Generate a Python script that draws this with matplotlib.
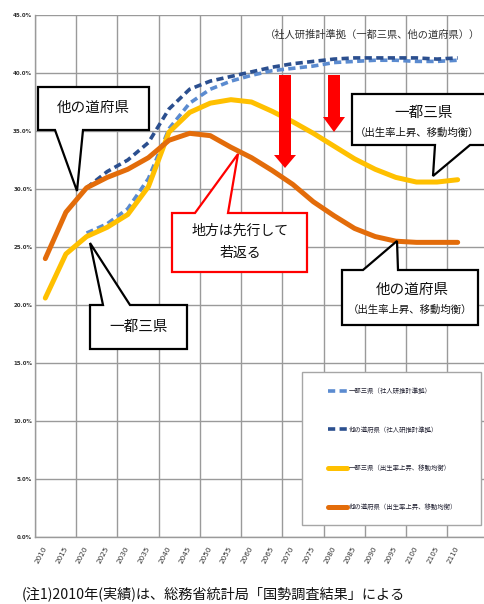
import numpy as np
import matplotlib
matplotlib.use("Agg")
import matplotlib.pyplot as plt
from matplotlib.patches import Polygon, Rectangle

plt.rcParams['font.family'] = ['Noto Sans CJK JP', 'DejaVu Sans']

years = [str(y) for y in range(2010, 2115, 5)]
# 出生率上昇、移動均衡
ikken_up = [20.6, 24.4, 25.9, 26.7, 27.8, 30.2, 34.9, 36.6, 37.4, 37.7, 37.5,
            36.7, 35.8, 34.8, 33.7, 32.6, 31.7, 31.0, 30.6, 30.6, 30.8]
tafu_up = [24.0, 28.0, 30.1, 31.0, 31.7, 32.7, 34.2, 34.8, 34.6, 33.6, 32.7,
           31.6, 30.4, 28.9, 27.7, 26.6, 25.9, 25.5, 25.4, 25.4, 25.4]
# 社人研推計準拠（2020年から）
ikken_ipss = [None, None, 26.2, 27.0, 28.3, 30.9, 35.2, 37.4, 38.6, 39.3, 39.8,
              40.2, 40.4, 40.6, 40.9, 41.0, 41.1, 41.1, 41.0, 41.0, 41.1]
tafu_ipss = [None, None, 30.1, 31.5, 32.5, 34.0, 36.9, 38.6, 39.3, 39.7, 40.1,
             40.5, 40.8, 41.0, 41.2, 41.3, 41.3, 41.3, 41.3, 41.2, 41.3]

labels = ['一都三県（社人研推計準拠）', '他の道府県（社人研推計準拠）',
          '一都三県（出生率上昇、移動均衡）', '他の道府県（出生率上昇、移動均衡）']

W, H = 484, 604
fig = plt.figure(figsize=(W / 100, H / 100), dpi=100)
fig.patch.set_facecolor('white')


def fx(x, y):
    # ピクセル位置 -> figure座標
    return (x / W, 1 - y / H)


# 右端は画像の外まで続く
ax = fig.add_axes([35 / W, 1 - 537 / H, 453.6 / W, 522 / H])
x = np.arange(len(years))

ax.plot(x, np.array(ikken_ipss, dtype=float), color='#5B8BD0', lw=2.6,
        dashes=(2.0, 1.2), label=labels[0])
ax.plot(x, np.array(tafu_ipss, dtype=float), color='#2B4F8F', lw=2.6,
        dashes=(2.0, 1.2), label=labels[1])
ax.plot(x, ikken_up, color='#FFC000', lw=3.6, solid_joinstyle='round',
        solid_capstyle='round', label=labels[2])
ax.plot(x, tafu_up, color='#E36C0A', lw=3.6, solid_joinstyle='round',
        solid_capstyle='round', label=labels[3])

ax.set_xlim(-0.5, len(years) - 0.5)
ax.set_ylim(0, 45)
ax.set_yticks(np.arange(0, 46, 5))
ax.set_yticklabels([f'{v:.1f}%' for v in np.arange(0, 46, 5)],
                   fontsize=4, fontweight='bold', color='#333333',
                   family='DejaVu Sans')
ax.set_xticks(x)
ax.set_xticklabels(years, rotation=62, ha='right', va='center',
                   rotation_mode='anchor', fontsize=5.2, color='#333333',
                   family='DejaVu Sans')
ax.set_xticks(np.arange(-0.5, len(years) + 1, 2), minor=True)
ax.tick_params(axis='both', which='both', length=0)
ax.tick_params(axis='x', pad=7)
ax.tick_params(axis='y', pad=2)
ax.grid(axis='y', which='major', color='#9A9A9A', lw=1.0)
ax.grid(axis='x', which='minor', color='#9A9A9A', lw=1.0)
ax.set_axisbelow(True)
for s in ['top', 'right']:
    ax.spines[s].set_visible(False)
for s in ['left', 'bottom']:
    ax.spines[s].set_color('#9A9A9A')
    ax.spines[s].set_linewidth(1.0)

# 凡例
fig.add_artist(Rectangle(fx(302, 525), (481 - 302) / W, (525 - 372) / H,
                         transform=fig.transFigure, facecolor='white',
                         edgecolor='#A6A6A6', lw=1.0))
fig.legend(loc='upper left', bbox_to_anchor=fx(328, 387), frameon=False,
           fontsize=4.6, handlelength=2.9, handletextpad=0.3,
           labelspacing=4.8, borderpad=0, borderaxespad=0,
           labelcolor='#222233')


def bubble(x0, y0, x1, y1, b1, b2, tip, side, color):
    if side == 'bottom':
        pts = [(x0, y0), (x1, y0), (x1, y1), (b2, y1), tip, (b1, y1), (x0, y1)]
    else:
        pts = [(x0, y0), (b1, y0), tip, (b2, y0), (x1, y0), (x1, y1), (x0, y1)]
    fig.add_artist(Polygon([fx(*p) for p in pts], closed=True,
                           transform=fig.transFigure, facecolor='white',
                           edgecolor=color, lw=1.6, joinstyle='miter'))


def down_arrow(xc, ytop, yhead, ytip, shaft=12, head=22):
    pts = [(xc - shaft / 2, ytop), (xc + shaft / 2, ytop), (xc + shaft / 2, yhead),
           (xc + head / 2, yhead), (xc, ytip), (xc - head / 2, yhead),
           (xc - shaft / 2, yhead)]
    fig.add_artist(Polygon([fx(*p) for p in pts], closed=True,
                           transform=fig.transFigure, facecolor='#FF0000',
                           edgecolor='none'))


def label(px, py, s, size, color='#111111', **kw):
    fig.text(*fx(px, py), s, fontsize=size, color=color, ha='center',
             va='center', **kw)


# 吹き出し
bubble(38, 87, 149, 130, 55, 83, (77, 191), 'bottom', 'black')
label(93, 108, '他の道府県', 10.5)

bubble(90, 305, 187, 349, 103, 130, (90, 243), 'top', 'black')
label(139, 327, '一都三県', 10.5)

bubble(172, 213, 307, 272, 195, 228, (238, 154), 'top', '#FF0000')
label(240, 231, '地方は先行して', 10)
label(240, 253, '若返る', 10)

bubble(352, 94, 490, 145, 435, 470, (433, 176), 'bottom', 'black')
label(424, 113, '一都三県', 10.5)
label(417, 133, '（出生率上昇、移動均衡）', 7.5)

bubble(342, 270, 478, 325, 363, 398, (397, 241), 'top', 'black')
label(412, 290, '他の道府県', 10.5)
label(410, 310, '（出生率上昇、移動均衡）', 7.5)

label(372, 35, '（社人研推計準拠（一都三県、他の道府県））', 7.4, color='#333333')

down_arrow(285, 75, 155, 168)
down_arrow(334, 75, 117, 132)

fig.text(*fx(22, 594), '(注1)2010年(実績)は、総務省統計局「国勢調査結果」による',
         fontsize=10.2, color='#111111', ha='left', va='center')

fig.savefig('out.png', dpi=100)
